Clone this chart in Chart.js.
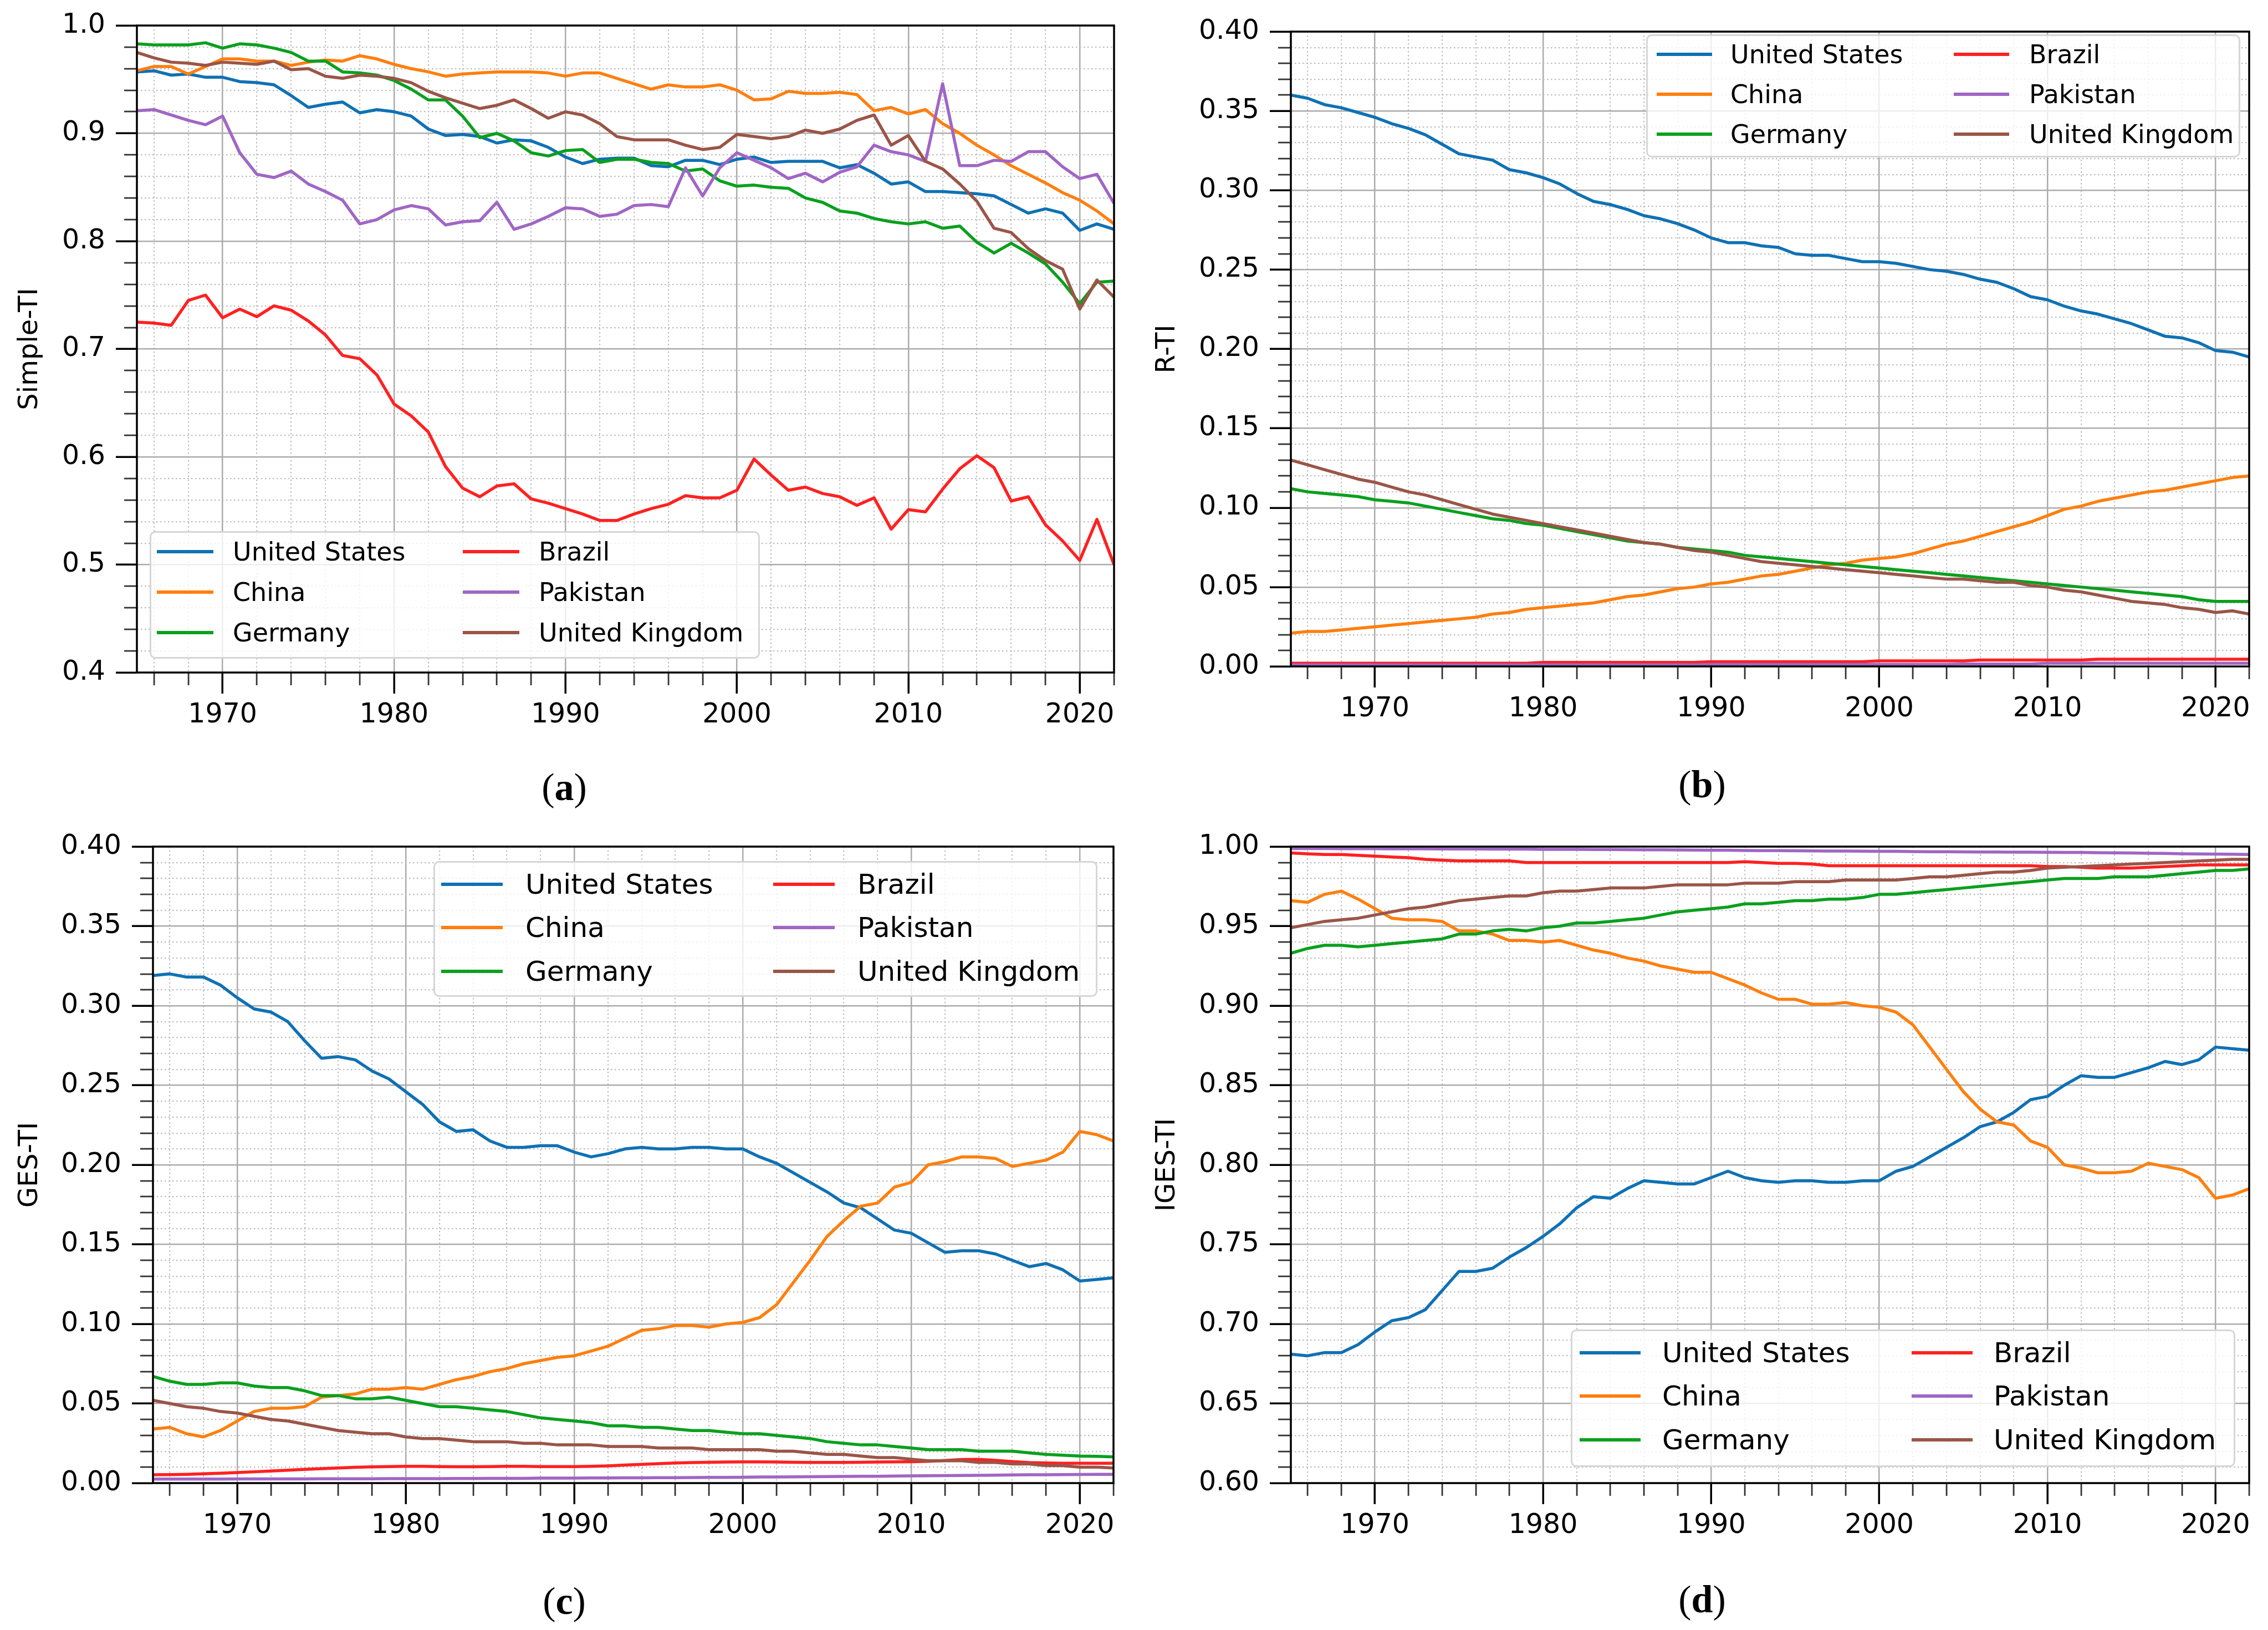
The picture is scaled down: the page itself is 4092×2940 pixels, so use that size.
<!DOCTYPE html>
<html>
<head>
<meta charset="utf-8">
<title>TI indicators by country</title>
<script src="https://cdn.jsdelivr.net/npm/chart.js@4.4.1/dist/chart.umd.min.js"></script>
<style>
  html, body { margin: 0; padding: 0; background: #fff; }
  #page { position: relative; width: 4092px; height: 2940px; overflow: hidden; background: #fff; }
  .panel { position: absolute; }
  .legend { position: absolute; box-sizing: border-box; border: 3px solid #d6d6d6; border-radius: 10px; background: rgba(255,255,255,0.8); }
  .handle { position: absolute; height: 6px; }
  .ltext { position: absolute; font-family: 'DejaVu Sans'; line-height: 1; white-space: nowrap; color: #000; transform: translateY(-50%); }
  .sub { position: absolute; font-family: 'Liberation Serif'; font-size: 70px; line-height: 1; color: #000; transform: translate(-50%, -50%); }
</style>
</head>
<body>
<div id="page"></div>
<script>
// years on the x axis
const years = [
  1965, 1966, 1967, 1968, 1969, 1970, 1971, 1972, 1973, 1974,
  1975, 1976, 1977, 1978, 1979, 1980, 1981, 1982, 1983, 1984,
  1985, 1986, 1987, 1988, 1989, 1990, 1991, 1992, 1993, 1994,
  1995, 1996, 1997, 1998, 1999, 2000, 2001, 2002, 2003, 2004,
  2005, 2006, 2007, 2008, 2009, 2010, 2011, 2012, 2013, 2014,
  2015, 2016, 2017, 2018, 2019, 2020, 2021, 2022
];
const countries = ['United States', 'China', 'Germany', 'Brazil', 'Pakistan', 'United Kingdom'];

// tick labels
const yearTicks = ['1970', '1980', '1990', '2000', '2010', '2020'];
const simpleTicks = ['0.4', '0.5', '0.6', '0.7', '0.8', '0.9', '1.0'];
const rTicks = ['0.00', '0.05', '0.10', '0.15', '0.20', '0.25', '0.30', '0.35', '0.40'];
const gesTicks = ['0.00', '0.05', '0.10', '0.15', '0.20', '0.25', '0.30', '0.35', '0.40'];
const igesTicks = ['0.60', '0.65', '0.70', '0.75', '0.80', '0.85', '0.90', '0.95', '1.00'];

// (a) Simple-TI
const simpleUS = [
  0.957, 0.958, 0.954, 0.955, 0.952, 0.952, 0.948, 0.947, 0.945, 0.935,
  0.924, 0.927, 0.929, 0.919, 0.922, 0.920, 0.916, 0.904, 0.898, 0.899,
  0.897, 0.891, 0.894, 0.893, 0.887, 0.878, 0.872, 0.876, 0.877, 0.877,
  0.870, 0.869, 0.875, 0.875, 0.871, 0.876, 0.878, 0.873, 0.874, 0.874,
  0.874, 0.868, 0.871, 0.863, 0.853, 0.855, 0.846, 0.846, 0.845, 0.844,
  0.842, 0.834, 0.826, 0.830, 0.826, 0.810, 0.816, 0.811
];
const simpleChina = [
  0.958, 0.962, 0.962, 0.955, 0.962, 0.969, 0.969, 0.967, 0.967, 0.963,
  0.966, 0.968, 0.967, 0.972, 0.969, 0.964, 0.960, 0.957, 0.953, 0.955,
  0.956, 0.957, 0.957, 0.957, 0.956, 0.953, 0.956, 0.956, 0.951, 0.946,
  0.941, 0.945, 0.943, 0.943, 0.945, 0.940, 0.931, 0.932, 0.939, 0.937,
  0.937, 0.938, 0.936, 0.921, 0.924, 0.918, 0.922, 0.909, 0.900, 0.889,
  0.880, 0.870, 0.862, 0.854, 0.845, 0.838, 0.828, 0.816
];
const simpleGermany = [
  0.983, 0.982, 0.982, 0.982, 0.984, 0.979, 0.983, 0.982, 0.979, 0.975,
  0.967, 0.967, 0.957, 0.956, 0.954, 0.949, 0.941, 0.931, 0.931, 0.916,
  0.896, 0.900, 0.893, 0.882, 0.879, 0.884, 0.885, 0.873, 0.876, 0.876,
  0.873, 0.872, 0.865, 0.867, 0.856, 0.851, 0.852, 0.850, 0.849, 0.840,
  0.836, 0.828, 0.826, 0.821, 0.818, 0.816, 0.818, 0.812, 0.814, 0.799,
  0.789, 0.798, 0.789, 0.779, 0.762, 0.742, 0.762, 0.763
];
const simpleBrazil = [
  0.725, 0.724, 0.722, 0.745, 0.750, 0.729, 0.737, 0.730, 0.740, 0.736,
  0.726, 0.713, 0.694, 0.691, 0.676, 0.649, 0.638, 0.623, 0.591, 0.571,
  0.563, 0.573, 0.575, 0.561, 0.557, 0.552, 0.547, 0.541, 0.541, 0.547,
  0.552, 0.556, 0.564, 0.562, 0.562, 0.569, 0.598, 0.583, 0.569, 0.572,
  0.566, 0.563, 0.555, 0.562, 0.533, 0.551, 0.549, 0.570, 0.589, 0.601,
  0.590, 0.559, 0.563, 0.537, 0.522, 0.504, 0.542, 0.500
];
const simplePakistan = [
  0.921, 0.922, 0.917, 0.912, 0.908, 0.916, 0.882, 0.862, 0.859, 0.865,
  0.853, 0.846, 0.838, 0.816, 0.820, 0.829, 0.833, 0.830, 0.815, 0.818,
  0.819, 0.836, 0.811, 0.816, 0.823, 0.831, 0.830, 0.823, 0.825, 0.833,
  0.834, 0.832, 0.868, 0.842, 0.868, 0.882, 0.875, 0.868, 0.858, 0.863,
  0.855, 0.864, 0.869, 0.889, 0.883, 0.880, 0.874, 0.946, 0.870, 0.870,
  0.875, 0.874, 0.883, 0.883, 0.869, 0.858, 0.862, 0.835
];
const simpleUK = [
  0.975, 0.970, 0.966, 0.965, 0.963, 0.966, 0.965, 0.964, 0.967, 0.959,
  0.960, 0.953, 0.951, 0.954, 0.953, 0.951, 0.947, 0.939, 0.933, 0.928,
  0.923, 0.926, 0.931, 0.923, 0.914, 0.920, 0.917, 0.909, 0.897, 0.894,
  0.894, 0.894, 0.889, 0.885, 0.887, 0.899, 0.897, 0.895, 0.897, 0.903,
  0.900, 0.904, 0.912, 0.917, 0.889, 0.898, 0.874, 0.867, 0.853, 0.837,
  0.812, 0.808, 0.793, 0.782, 0.774, 0.737, 0.764, 0.748
];

// (b) R-TI
const rUS = [
  0.360, 0.358, 0.354, 0.352, 0.349, 0.346, 0.342, 0.339, 0.335, 0.329,
  0.323, 0.321, 0.319, 0.313, 0.311, 0.308, 0.304, 0.298, 0.293, 0.291,
  0.288, 0.284, 0.282, 0.279, 0.275, 0.270, 0.267, 0.267, 0.265, 0.264,
  0.260, 0.259, 0.259, 0.257, 0.255, 0.255, 0.254, 0.252, 0.250, 0.249,
  0.247, 0.244, 0.242, 0.238, 0.233, 0.231, 0.227, 0.224, 0.222, 0.219,
  0.216, 0.212, 0.208, 0.207, 0.204, 0.199, 0.198, 0.195
];
const rChina = [
  0.021, 0.022, 0.022, 0.023, 0.024, 0.025, 0.026, 0.027, 0.028, 0.029,
  0.030, 0.031, 0.033, 0.034, 0.036, 0.037, 0.038, 0.039, 0.040, 0.042,
  0.044, 0.045, 0.047, 0.049, 0.050, 0.052, 0.053, 0.055, 0.057, 0.058,
  0.060, 0.062, 0.064, 0.065, 0.067, 0.068, 0.069, 0.071, 0.074, 0.077,
  0.079, 0.082, 0.085, 0.088, 0.091, 0.095, 0.099, 0.101, 0.104, 0.106,
  0.108, 0.110, 0.111, 0.113, 0.115, 0.117, 0.119, 0.120
];
const rGermany = [
  0.112, 0.110, 0.109, 0.108, 0.107, 0.105, 0.104, 0.103, 0.101, 0.099,
  0.097, 0.095, 0.093, 0.092, 0.090, 0.089, 0.087, 0.085, 0.083, 0.081,
  0.079, 0.078, 0.077, 0.075, 0.074, 0.073, 0.072, 0.070, 0.069, 0.068,
  0.067, 0.066, 0.065, 0.064, 0.063, 0.062, 0.061, 0.060, 0.059, 0.058,
  0.057, 0.056, 0.055, 0.054, 0.053, 0.052, 0.051, 0.050, 0.049, 0.048,
  0.047, 0.046, 0.045, 0.044, 0.042, 0.041, 0.041, 0.041
];
const rBrazil = [
  0.0020, 0.0020, 0.0020, 0.0020, 0.0020, 0.0020, 0.0020, 0.0020, 0.0020, 0.0020,
  0.0020, 0.0020, 0.0020, 0.0020, 0.0020, 0.0025, 0.0025, 0.0025, 0.0025, 0.0025,
  0.0025, 0.0025, 0.0025, 0.0025, 0.0025, 0.0030, 0.0030, 0.0030, 0.0030, 0.0030,
  0.0030, 0.0030, 0.0030, 0.0030, 0.0030, 0.0035, 0.0035, 0.0035, 0.0035, 0.0035,
  0.0035, 0.0040, 0.0040, 0.0040, 0.0040, 0.0040, 0.0040, 0.0040, 0.0045, 0.0045,
  0.0045, 0.0045, 0.0045, 0.0045, 0.0045, 0.0045, 0.0045, 0.0045
];
const rPakistan = [
  0.0010, 0.0010, 0.0010, 0.0010, 0.0010, 0.0010, 0.0010, 0.0010, 0.0010, 0.0010,
  0.0010, 0.0010, 0.0010, 0.0010, 0.0010, 0.0010, 0.0010, 0.0010, 0.0010, 0.0010,
  0.0010, 0.0010, 0.0010, 0.0010, 0.0010, 0.0012, 0.0012, 0.0012, 0.0012, 0.0012,
  0.0012, 0.0012, 0.0012, 0.0012, 0.0012, 0.0012, 0.0012, 0.0012, 0.0012, 0.0012,
  0.0015, 0.0015, 0.0015, 0.0015, 0.0015, 0.0020, 0.0020, 0.0020, 0.0020, 0.0020,
  0.0020, 0.0020, 0.0020, 0.0020, 0.0020, 0.0020, 0.0020, 0.0020
];
const rUK = [
  0.130, 0.127, 0.124, 0.121, 0.118, 0.116, 0.113, 0.110, 0.108, 0.105,
  0.102, 0.099, 0.096, 0.094, 0.092, 0.090, 0.088, 0.086, 0.084, 0.082,
  0.080, 0.078, 0.077, 0.075, 0.073, 0.072, 0.070, 0.068, 0.066, 0.065,
  0.064, 0.063, 0.062, 0.061, 0.060, 0.059, 0.058, 0.057, 0.056, 0.055,
  0.055, 0.054, 0.053, 0.053, 0.051, 0.050, 0.048, 0.047, 0.045, 0.043,
  0.041, 0.040, 0.039, 0.037, 0.036, 0.034, 0.035, 0.033
];

// (c) GES-TI
const gesUS = [
  0.319, 0.320, 0.318, 0.318, 0.313, 0.305, 0.298, 0.296, 0.290, 0.278,
  0.267, 0.268, 0.266, 0.259, 0.254, 0.246, 0.238, 0.227, 0.221, 0.222,
  0.215, 0.211, 0.211, 0.212, 0.212, 0.208, 0.205, 0.207, 0.210, 0.211,
  0.210, 0.210, 0.211, 0.211, 0.210, 0.210, 0.205, 0.201, 0.195, 0.189,
  0.183, 0.176, 0.173, 0.166, 0.159, 0.157, 0.151, 0.145, 0.146, 0.146,
  0.144, 0.140, 0.136, 0.138, 0.134, 0.127, 0.128, 0.129
];
const gesChina = [
  0.034, 0.035, 0.031, 0.029, 0.033, 0.039, 0.045, 0.047, 0.047, 0.048,
  0.054, 0.055, 0.056, 0.059, 0.059, 0.060, 0.059, 0.062, 0.065, 0.067,
  0.070, 0.072, 0.075, 0.077, 0.079, 0.080, 0.083, 0.086, 0.091, 0.096,
  0.097, 0.099, 0.099, 0.098, 0.100, 0.101, 0.104, 0.112, 0.126, 0.140,
  0.155, 0.165, 0.174, 0.176, 0.186, 0.189, 0.200, 0.202, 0.205, 0.205,
  0.204, 0.199, 0.201, 0.203, 0.208, 0.221, 0.219, 0.215
];
const gesGermany = [
  0.067, 0.064, 0.062, 0.062, 0.063, 0.063, 0.061, 0.060, 0.060, 0.058,
  0.055, 0.055, 0.053, 0.053, 0.054, 0.052, 0.050, 0.048, 0.048, 0.047,
  0.046, 0.045, 0.043, 0.041, 0.040, 0.039, 0.038, 0.036, 0.036, 0.035,
  0.035, 0.034, 0.033, 0.033, 0.032, 0.031, 0.031, 0.030, 0.029, 0.028,
  0.026, 0.025, 0.024, 0.024, 0.023, 0.022, 0.021, 0.021, 0.021, 0.020,
  0.020, 0.020, 0.019, 0.018, 0.0175, 0.017, 0.0168, 0.0165
];
const gesBrazil = [
  0.0052, 0.0053, 0.0055, 0.0058, 0.0062, 0.0066, 0.0071, 0.0076, 0.0081, 0.0086,
  0.0091, 0.0095, 0.0099, 0.0102, 0.0104, 0.0105, 0.0105, 0.0104, 0.0103, 0.0103,
  0.0104, 0.0105, 0.0105, 0.0104, 0.0104, 0.0104, 0.0105, 0.0108, 0.0113, 0.0118,
  0.0122, 0.0126, 0.0129, 0.0131, 0.0132, 0.0133, 0.0133, 0.0132, 0.0131, 0.0130,
  0.0130, 0.0130, 0.0131, 0.0132, 0.0133, 0.0134, 0.0137, 0.0142, 0.0148, 0.0149,
  0.0143, 0.0135, 0.0129, 0.0126, 0.0125, 0.0125, 0.0125, 0.0125
];
const gesPakistan = [
  0.0025, 0.0025, 0.0025, 0.0025, 0.0025, 0.0026, 0.0026, 0.0026, 0.0026, 0.0026,
  0.0027, 0.0027, 0.0027, 0.0027, 0.0028, 0.0028, 0.0028, 0.0028, 0.0029, 0.0029,
  0.0030, 0.0030, 0.0030, 0.0031, 0.0031, 0.0031, 0.0032, 0.0032, 0.0033, 0.0033,
  0.0034, 0.0034, 0.0035, 0.0036, 0.0036, 0.0037, 0.0038, 0.0038, 0.0039, 0.0040,
  0.0041, 0.0042, 0.0043, 0.0043, 0.0044, 0.0045, 0.0046, 0.0047, 0.0048, 0.0049,
  0.0050, 0.0051, 0.0052, 0.0052, 0.0053, 0.0054, 0.0055, 0.0055
];
const gesUK = [
  0.052, 0.050, 0.048, 0.047, 0.045, 0.044, 0.042, 0.040, 0.039, 0.037,
  0.035, 0.033, 0.032, 0.031, 0.031, 0.029, 0.028, 0.028, 0.027, 0.026,
  0.026, 0.026, 0.025, 0.025, 0.024, 0.024, 0.024, 0.023, 0.023, 0.023,
  0.022, 0.022, 0.022, 0.021, 0.021, 0.021, 0.021, 0.020, 0.020, 0.019,
  0.018, 0.018, 0.017, 0.016, 0.016, 0.015, 0.014, 0.014, 0.014, 0.013,
  0.013, 0.012, 0.012, 0.011, 0.011, 0.010, 0.010, 0.0095
];

// (d) IGES-TI
const igesUS = [
  0.681, 0.680, 0.682, 0.682, 0.687, 0.695, 0.702, 0.704, 0.709, 0.721,
  0.733, 0.733, 0.735, 0.742, 0.748, 0.755, 0.763, 0.773, 0.780, 0.779,
  0.785, 0.790, 0.789, 0.788, 0.788, 0.792, 0.796, 0.792, 0.790, 0.789,
  0.790, 0.790, 0.789, 0.789, 0.790, 0.790, 0.796, 0.799, 0.805, 0.811,
  0.817, 0.824, 0.827, 0.833, 0.841, 0.843, 0.850, 0.856, 0.855, 0.855,
  0.858, 0.861, 0.865, 0.863, 0.866, 0.874, 0.873, 0.872
];
const igesChina = [
  0.966, 0.965, 0.970, 0.972, 0.967, 0.961, 0.955, 0.954, 0.954, 0.953,
  0.947, 0.947, 0.945, 0.941, 0.941, 0.940, 0.941, 0.938, 0.935, 0.933,
  0.930, 0.928, 0.925, 0.923, 0.921, 0.921, 0.917, 0.913, 0.908, 0.904,
  0.904, 0.901, 0.901, 0.902, 0.900, 0.899, 0.896, 0.888, 0.874, 0.860,
  0.846, 0.835, 0.827, 0.825, 0.815, 0.811, 0.800, 0.798, 0.795, 0.795,
  0.796, 0.801, 0.799, 0.797, 0.792, 0.779, 0.781, 0.785
];
const igesGermany = [
  0.933, 0.936, 0.938, 0.938, 0.937, 0.938, 0.939, 0.940, 0.941, 0.942,
  0.945, 0.945, 0.947, 0.948, 0.947, 0.949, 0.950, 0.952, 0.952, 0.953,
  0.954, 0.955, 0.957, 0.959, 0.960, 0.961, 0.962, 0.964, 0.964, 0.965,
  0.966, 0.966, 0.967, 0.967, 0.968, 0.970, 0.970, 0.971, 0.972, 0.973,
  0.974, 0.975, 0.976, 0.977, 0.978, 0.979, 0.980, 0.980, 0.980, 0.981,
  0.981, 0.981, 0.982, 0.983, 0.984, 0.985, 0.985, 0.986
];
const igesBrazil = [
  0.9960, 0.9955, 0.9950, 0.9950, 0.9945, 0.9940, 0.9935, 0.9930, 0.9920, 0.9915,
  0.9910, 0.9910, 0.9910, 0.9910, 0.9900, 0.9900, 0.9900, 0.9900, 0.9900, 0.9900,
  0.9900, 0.9900, 0.9900, 0.9900, 0.9900, 0.9900, 0.9900, 0.9905, 0.9900, 0.9895,
  0.9895, 0.9890, 0.9880, 0.9880, 0.9880, 0.9880, 0.9880, 0.9880, 0.9880, 0.9880,
  0.9880, 0.9880, 0.9880, 0.9880, 0.9880, 0.9875, 0.9875, 0.9870, 0.9865, 0.9865,
  0.9865, 0.9870, 0.9875, 0.9880, 0.9885, 0.9885, 0.9885, 0.9885
];
const igesPakistan = [
  0.9988, 0.9988, 0.9988, 0.9987, 0.9987, 0.9987, 0.9986, 0.9986, 0.9986, 0.9985,
  0.9985, 0.9985, 0.9984, 0.9984, 0.9984, 0.9983, 0.9983, 0.9983, 0.9982, 0.9982,
  0.9981, 0.9980, 0.9980, 0.9979, 0.9978, 0.9977, 0.9977, 0.9976, 0.9975, 0.9975,
  0.9974, 0.9973, 0.9972, 0.9972, 0.9971, 0.9970, 0.9970, 0.9969, 0.9968, 0.9968,
  0.9967, 0.9966, 0.9966, 0.9965, 0.9965, 0.9964, 0.9963, 0.9963, 0.9962, 0.9961,
  0.9960, 0.9958, 0.9957, 0.9955, 0.9954, 0.9953, 0.9952, 0.9950
];
const igesUK = [
  0.949, 0.951, 0.953, 0.954, 0.955, 0.957, 0.959, 0.961, 0.962, 0.964,
  0.966, 0.967, 0.968, 0.969, 0.969, 0.971, 0.972, 0.972, 0.973, 0.974,
  0.974, 0.974, 0.975, 0.976, 0.976, 0.976, 0.976, 0.977, 0.977, 0.977,
  0.978, 0.978, 0.978, 0.979, 0.979, 0.979, 0.979, 0.980, 0.981, 0.981,
  0.982, 0.983, 0.984, 0.984, 0.985, 0.9865, 0.987, 0.9875, 0.988, 0.9885,
  0.989, 0.9895, 0.990, 0.9905, 0.991, 0.9915, 0.992, 0.992
];

const colors = ['#0f71b4', '#ff7f0e', '#0aa01e', '#ff2121', '#a066c4', '#9a5547'];

Chart.defaults.font.family = 'DejaVu Sans';
Chart.defaults.color = '#000';
Chart.defaults.animation = false;

// panel placement (page pixels)
const panels = [
  { sub: 'a', title: 'Simple-TI', series: [simpleUS, simpleChina, simpleGermany, simpleBrazil, simplePakistan, simpleUK],
    ticks: simpleTicks, minorStep: 0.02, left: 0, top: 0,
    area: { left: 247, top: 46, right: 2010, bottom: 1213 }, titleX: 55,
    legend: { box: [270, 958, 1371, 1188], handleX: [283, 835], handleLen: 102, textX: [420, 972], rows: [995, 1068, 1141], font: 46 },
    label: [1018, 1420] },
  { sub: 'b', title: 'R-TI', series: [rUS, rChina, rGermany, rBrazil, rPakistan, rUK],
    ticks: rTicks, minorStep: 0.01, left: 2046, top: 0,
    area: { left: 2329, top: 57, right: 4058, bottom: 1202 }, titleX: 61,
    legend: { box: [2970, 62, 4042, 284], handleX: [2989, 3525], handleLen: 100, textX: [3122, 3661], rows: [98, 170, 242], font: 46 },
    label: [3071, 1415] },
  { sub: 'c', title: 'GES-TI', series: [gesUS, gesChina, gesGermany, gesBrazil, gesPakistan, gesUK],
    ticks: gesTicks, minorStep: 0.01, left: 0, top: 1470,
    area: { left: 276, top: 1527, right: 2009, bottom: 2675 }, titleX: 55,
    legend: { box: [782, 1553, 1980, 1798], handleX: [796, 1395], handleLen: 111, textX: [948, 1547], rows: [1595, 1673, 1752], font: 50 },
    label: [1018, 2888] },
  { sub: 'd', title: 'IGES-TI', series: [igesUS, igesChina, igesGermany, igesBrazil, igesPakistan, igesUK],
    ticks: igesTicks, minorStep: 0.01, left: 2046, top: 1470,
    area: { left: 2329, top: 1527, right: 4058, bottom: 2675 }, titleX: 61,
    legend: { box: [2834, 2398, 4033, 2646], handleX: [2850, 3449], handleLen: 110, textX: [2999, 3597], rows: [2440, 2518, 2597], font: 50 },
    label: [3071, 2885] }
];

const PANEL_W = 2046, PANEL_H = 1340;
const page = document.getElementById('page');

// matplotlib-style box around the axes, drawn over the lines
const framePlugin = {
  id: 'frame',
  afterDatasetsDraw(chart) {
    const { ctx, chartArea: c } = chart;
    ctx.save();
    ctx.strokeStyle = '#000';
    ctx.lineWidth = 3.5;
    ctx.strokeRect(c.left, c.top, c.right - c.left, c.bottom - c.top);
    ctx.restore();
  }
};

function zeroPad(s) {
  s.paddingLeft = 0; s.paddingRight = 0; s.paddingTop = 0; s.paddingBottom = 0;
}

function makePanel(p) {
  const wrap = document.createElement('div');
  wrap.className = 'panel';
  wrap.style.left = p.left + 'px';
  wrap.style.top = p.top + 'px';
  wrap.style.width = PANEL_W + 'px';
  wrap.style.height = PANEL_H + 'px';
  const canvas = document.createElement('canvas');
  wrap.appendChild(canvas);
  page.appendChild(wrap);

  const a = p.area;
  const yWidth = a.left - p.left;
  const xHeight = p.top + PANEL_H - a.bottom;
  const padTop = a.top - p.top;
  const padRight = p.left + PANEL_W - a.right;

  const yMajor = p.ticks.map(parseFloat);
  const yMin = yMajor[0], yMax = yMajor[yMajor.length - 1];
  const xMin = years[0], xMax = years[years.length - 1];

  // minor tick positions (dotted grid)
  const yMinor = [];
  const n = Math.round((yMax - yMin) / p.minorStep);
  for (let i = 0; i <= n; i++) {
    const v = yMin + i * p.minorStep;
    if (!yMajor.some(m => Math.abs(m - v) < 1e-9)) yMinor.push(v);
  }
  const xMinor = [];
  for (let yr = 1966; yr <= xMax; yr += 2) {
    if (yr % 10 !== 0) xMinor.push(yr);
  }

  const tickFont = { family: 'DejaVu Sans', size: 49 };
  const majorGrid = { color: '#ababab', lineWidth: 2.5, tickLength: 38, tickWidth: 3.5, tickColor: '#000', tickBorderDash: [] };
  const minorGrid = { color: '#bcbcbc', lineWidth: 2.2, tickLength: 23, tickWidth: 2.8, tickColor: '#333', tickBorderDash: [], borderDash: [2.5, 4.5] };

  const datasets = p.series.map((vals, i) => ({
    label: countries[i],
    data: years.map((yr, k) => ({ x: yr, y: vals[k] })),
    borderColor: colors[i],
    backgroundColor: colors[i],
    borderWidth: 5.5,
    borderJoinStyle: 'round',
    pointRadius: 0,
    tension: 0,
    fill: false,
    order: countries.length - i,
    xAxisID: 'x',
    yAxisID: 'y'
  }));

  const chart = new Chart(canvas, {
    type: 'line',
    data: { datasets },
    options: {
      responsive: true,
      maintainAspectRatio: false,
      devicePixelRatio: 1,
      animation: false,
      layout: { padding: { left: 0, top: padTop, right: padRight, bottom: 0 } },
      plugins: { legend: { display: false }, tooltip: { enabled: false } },
      scales: {
        x: {
          type: 'linear', position: 'bottom', weight: 1, min: xMin, max: xMax,
          afterBuildTicks: s => { s.ticks = yearTicks.map(t => ({ value: parseFloat(t) })); },
          afterFit: s => { s.height = xHeight; zeroPad(s); },
          ticks: { autoSkip: false, maxRotation: 0, minRotation: 0, padding: 10, color: '#000', font: tickFont,
                   callback: (v, i) => yearTicks[i] },
          grid: majorGrid,
          border: { display: false }
        },
        xMinor: {
          type: 'linear', position: 'bottom', weight: 0, min: xMin, max: xMax,
          afterBuildTicks: s => { s.ticks = xMinor.map(v => ({ value: v })); },
          afterFit: s => { s.height = 0; zeroPad(s); },
          ticks: { display: false, autoSkip: false },
          grid: minorGrid,
          border: { display: false, dash: [2.5, 4.5] }
        },
        y: {
          type: 'linear', position: 'left', weight: 1, min: yMin, max: yMax,
          afterBuildTicks: s => { s.ticks = yMajor.map(v => ({ value: v })); },
          afterFit: s => { s.width = yWidth; zeroPad(s); },
          ticks: { autoSkip: false, padding: 19, color: '#000', font: tickFont,
                   callback: (v, i) => p.ticks[i] },
          title: { display: true, text: p.title, color: '#000', font: { family: 'DejaVu Sans', size: 48 },
                   padding: { top: p.titleX - 28.8, bottom: 0 } },
          grid: majorGrid,
          border: { display: false }
        },
        yMinor: {
          type: 'linear', position: 'left', weight: 0, min: yMin, max: yMax,
          afterBuildTicks: s => { s.ticks = yMinor.map(v => ({ value: v })); },
          afterFit: s => { s.width = 0; zeroPad(s); },
          ticks: { display: false, autoSkip: false },
          grid: minorGrid,
          border: { display: false, dash: [2.5, 4.5] }
        }
      }
    },
    plugins: [framePlugin]
  });

  // legend inside the axes, two columns
  const L = p.legend;
  const box = document.createElement('div');
  box.className = 'legend';
  box.style.left = L.box[0] + 'px';
  box.style.top = L.box[1] + 'px';
  box.style.width = (L.box[2] - L.box[0]) + 'px';
  box.style.height = (L.box[3] - L.box[1]) + 'px';
  page.appendChild(box);
  chart.data.datasets.forEach((ds, i) => {
    const col = Math.floor(i / 3), row = i % 3;
    const h = document.createElement('div');
    h.className = 'handle';
    h.style.left = L.handleX[col] + 'px';
    h.style.top = (L.rows[row] - 3) + 'px';
    h.style.width = L.handleLen + 'px';
    h.style.background = ds.borderColor;
    page.appendChild(h);
    const t = document.createElement('div');
    t.className = 'ltext';
    t.style.left = L.textX[col] + 'px';
    t.style.top = L.rows[row] + 'px';
    t.style.fontSize = L.font + 'px';
    t.textContent = ds.label;
    page.appendChild(t);
  });

  // sub-figure label
  const lab = document.createElement('div');
  lab.className = 'sub';
  lab.style.left = p.label[0] + 'px';
  lab.style.top = p.label[1] + 'px';
  lab.innerHTML = '(<b>' + p.sub + '</b>)';
  page.appendChild(lab);

  return chart;
}

panels.forEach(makePanel);
</script>
</body>
</html>
